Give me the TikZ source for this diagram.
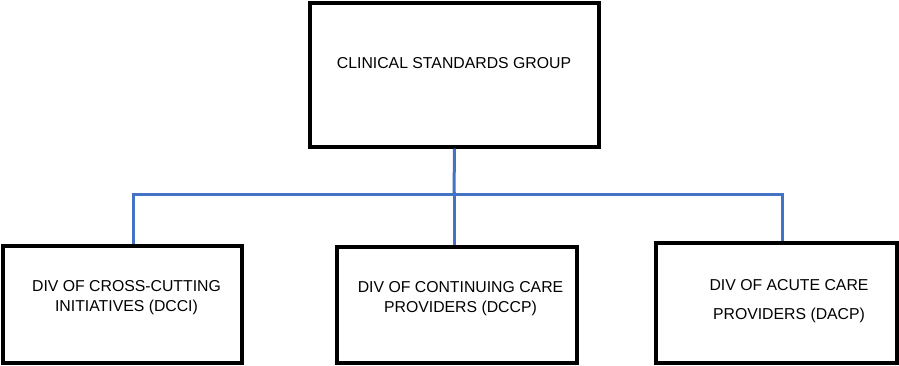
\documentclass[tikz,border=0pt]{standalone}
\usepackage{fontspec}
\setmainfont{Liberation Sans}
\usepackage{tikz}

\definecolor{linkblue}{RGB}{68,114,196}

\begin{document}
\begin{tikzpicture}[x=1pt,y=-1pt]
			\useasboundingbox (0,0) rectangle (899,366);

			\begin{scope}[every node/.style={rectangle,draw=black,line width=3.2pt,inner sep=0pt}]
				\node[minimum width=289pt,minimum height=144pt] (CSG) at (454.5,75) {};
				\node[minimum width=239pt,minimum height=117pt] (DCCI) at (122.5,304.5) {};
				\node[minimum width=240pt,minimum height=116pt] (DCCP) at (457,305) {};
				\node[minimum width=241pt,minimum height=120pt] (DACP) at (776.5,303) {};
			\end{scope}

			\begin{scope}[every node/.style={align=center,font=\fontsize{15.8}{20}\selectfont}]
				\node (tCSG) at (454,63) {CLINICAL STANDARDS GROUP};
				\node (tDCCI) at (126.5,298) {DIV OF CROSS-CUTTING\\INITIATIVES (DCCI)};
				\node (tDCCP) at (460.5,298.5) {DIV OF CONTINUING CARE\\PROVIDERS (DCCP)};
				\node[font=\fontsize{15.8}{29}\selectfont] (tDACP) at (789,301) {DIV OF ACUTE CARE\\PROVIDERS (DACP)};
			\end{scope}

			\coordinate (busL) at (133,195);
			\coordinate (busM) at (454,195);
			\coordinate (busR) at (782,195);

			\draw[linkblue,line width=3pt] (CSG.south) -- (busM);
			\draw[linkblue,line width=3pt] (DCCI.north -| busL) -- (busL) -- (busR) -- (DACP.north -| busR);
			\draw[linkblue,line width=3pt] ([yshift=3pt]busM) -- (DCCP.north -| busM);
		\end{tikzpicture}
\end{document}
